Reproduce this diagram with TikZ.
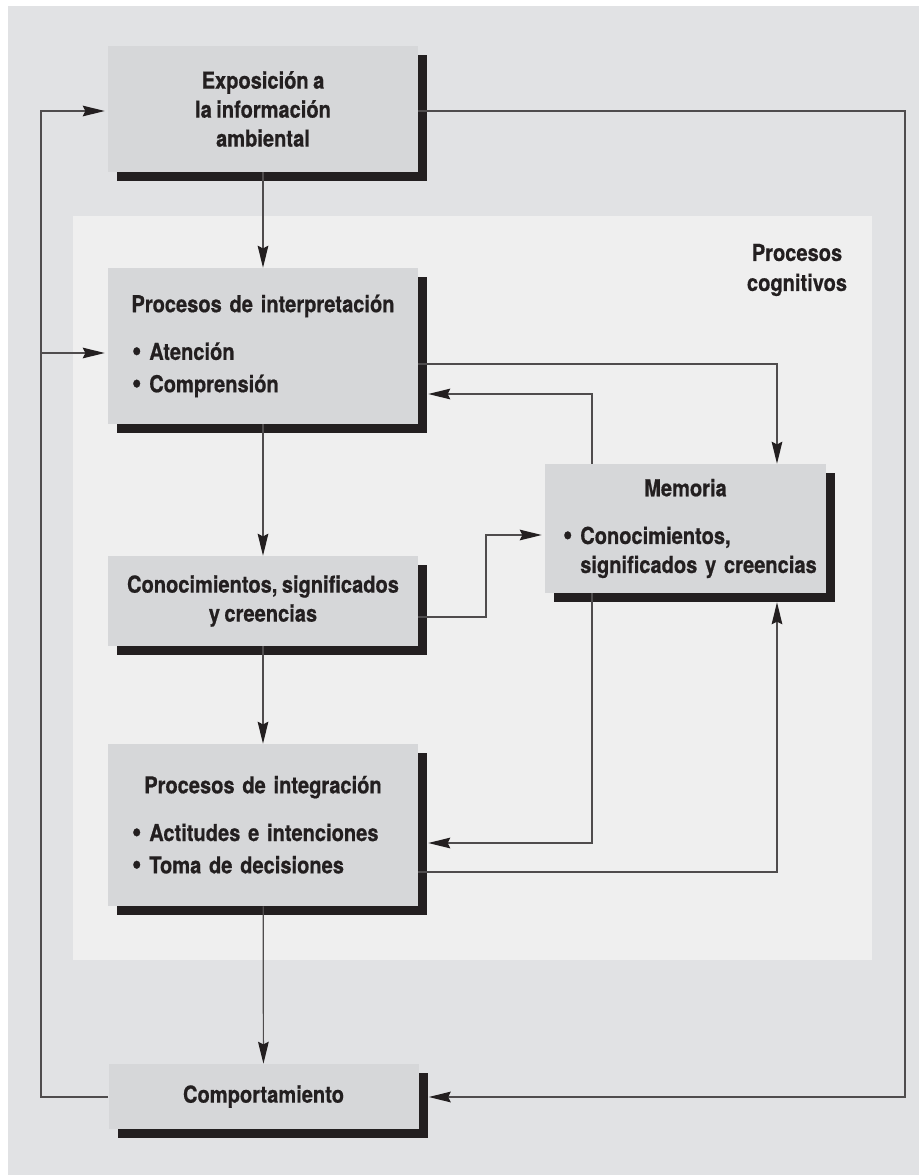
\documentclass[tikz,border=0pt]{standalone}
\usepackage{fontspec}
\setmainfont{TeX Gyre Heros}[FakeStretch=0.86, WordSpace=0.8, FakeBold=0.6]
\usetikzlibrary{arrows.meta,shadows}
\definecolor{fondo}{HTML}{E1E2E4}
\definecolor{panel}{HTML}{EFEFEF}
\definecolor{caja}{HTML}{D6D7D9}
\definecolor{tinta}{HTML}{231F20}
\def\punto{\raisebox{-0.6pt}{\scalebox{1.35}{\textbullet}}\ }
\def\sangria{\phantom{\punto}}

\begin{document}
\begin{tikzpicture}[x=0.75pt, y=-0.75pt,
	bloque/.style={fill=caja, inner sep=0pt, minimum width=232.5pt, text=tinta,
		font=\bfseries\fontsize{17.5}{21.75}\selectfont, align=center,
		drop shadow={fill=tinta, opacity=1, shadow xshift=7.1pt, shadow yshift=-7.1pt}},
	lista/.style={bloque, text width=196.5pt, align=left},
	linea/.style={draw=tinta!80, line width=0.9pt},
	flecha/.style={linea, -{Stealth[length=16.5pt, width=8pt, inset=2pt, color=tinta]}},
	retorno/.style={flecha, shorten >=7.5pt}]
		%%%%% START %%%%%
		
		\useasboundingbox (0,0) rectangle (919,1175);
		\fill[white] (0,0) rectangle (919,1175);
		\fill[fondo] (8,6) rectangle (919,1175);
		\fill[panel] (73,216) rectangle (872,960);
		
		\node[text=tinta, font=\bfseries\fontsize{17.5}{22.5}\selectfont, align=center] (cognitivos) at (797,270) {Procesos\\cognitivos};
		
		% columna de la izquierda
		\node[bloque, minimum height=94.5pt] (expo) at (263,109) {Exposición a\\la información\\ambiental};
		\node[lista, minimum height=117pt] (interp) at (263,346) {\makebox[\linewidth]{Procesos de interpretación}\\[14pt]\punto Atención\\[2.5pt]\punto Comprensión};
		\node[bloque, minimum height=67.5pt] (conoc) at (263,601) {Conocimientos, significados\\y creencias};
		\node[lista, minimum height=121.5pt] (integ) at (263,825) {\makebox[\linewidth]{Procesos de integración}\\[14pt]\punto Actitudes e intenciones\\[2.5pt]\punto Toma de decisiones};
		\node[bloque, minimum height=48.75pt] (comp) at (263.5,1096.5) {Comportamiento};
		
		% memoria
		\node[lista, minimum width=210.75pt, text width=183.75pt, minimum height=96.75pt] (memo) at (685.5,528.5) {\makebox[\linewidth]{Memoria}\\[14pt]\punto Conocimientos,\\\sangria\mbox{significados y creencias}};
		
		\draw[flecha] (expo) -- (interp);
		\draw[flecha] (interp) -- (conoc);
		\draw[flecha] (conoc) -- (integ);
		\draw[flecha] (integ) -- (comp);
		
		% lazos exteriores
		\draw[retorno] (expo.east |- 0,111) -- (905,111) |- (comp.east |- 0,1097);
		\draw[flecha, shorten >=2.25pt] (comp.west |- 0,1097) -- (41,1097) |- (expo.west |- 0,111);
		\draw[flecha, shorten >=2.25pt] (41,353) -- (interp.west |- 0,353);
		
		% ida y vuelta con la memoria
		\draw[flecha] (interp.east |- 0,364) -| (memo.north -| 777,0);
		\draw[retorno] (memo.north -| 592,0) |- (interp.east |- 0,394);
		\draw[flecha, shorten >=2.25pt] (conoc.east |- 0,617) -- (486,617) |- (memo.west |- 0,535);
		\draw[retorno] (memo.south -| 592,0) |- (integ.east |- 0,843);
		\draw[flecha, shorten >=6.75pt] (integ.east |- 0,872) -| (memo.south -| 777,0);
		
		%%%%% END %%%%%
	\end{tikzpicture}
\end{document}
